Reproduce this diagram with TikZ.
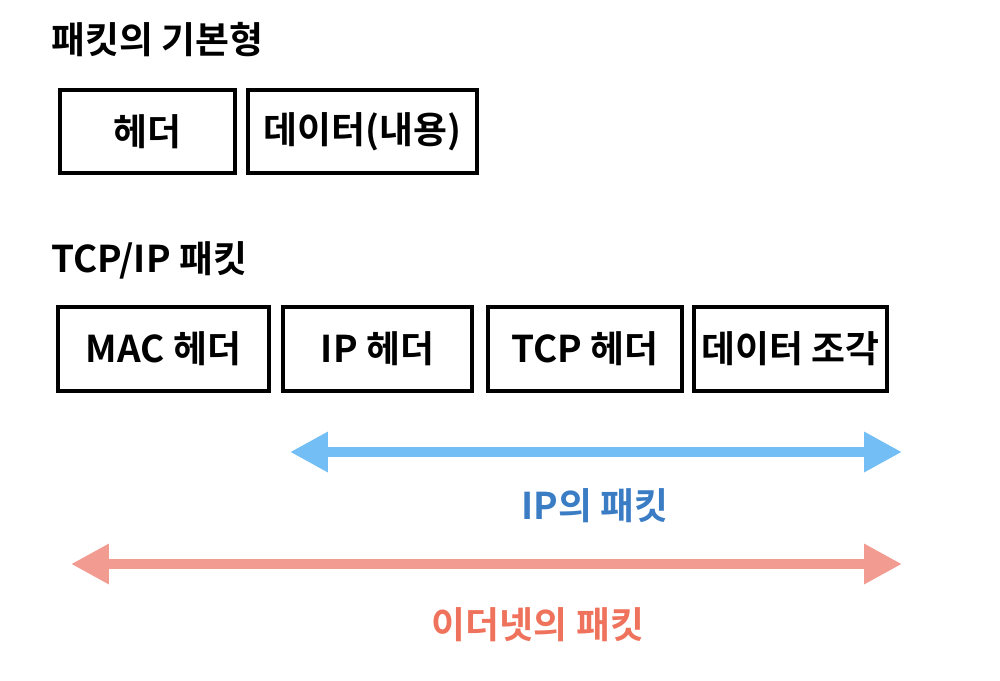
\documentclass[tikz,border=0pt]{standalone}
\usepackage{fontspec}
\setmainfont{Noto Sans CJK KR}[BoldFont={Noto Sans CJK KR Bold}]
\usetikzlibrary{arrows.meta}
\definecolor{ipline}{HTML}{74BEF6}
\definecolor{iptext}{HTML}{3B7DC4}
\definecolor{ethline}{HTML}{F29C91}
\definecolor{ethtext}{HTML}{EF735C}
\begin{document}
\begin{tikzpicture}[x=0.02cm, y=-0.02cm,
  font=\bfseries\fontsize{21}{25}\selectfont,
  title/.style={anchor=west, inner sep=0pt},
  field/.style={draw, line width=0.08cm, minimum height=1.67cm, inner sep=0pt},
  span/.style={line width=0.19cm, {Triangle[length=0.76cm, width=0.76cm]}-{Triangle[length=0.76cm, width=0.76cm]}}]
\useasboundingbox (0,0) rectangle (1000,680);

% basic form
\node[title] (t1) at (51,40) {패킷의 기본형};
\node[field, minimum width=3.5cm] (hdr) at (147.5,131.5) {헤더};
\node[field, minimum width=4.58cm] (body) at (362.5,131.5) {데이터(내용)};

% tcp/ip
\node[title] (t2) at (51,260) {TCP/IP 패킷};
\node[field, minimum width=4.22cm] (mac) at (163.5,349) {MAC 헤더};
\node[field, minimum width=3.78cm] (ip) at (377.5,349) {IP 헤더};
\node[field, minimum width=3.88cm] (tcp) at (585,349) {TCP 헤더};
\node[field, minimum width=3.86cm] (frag) at (790.5,349) {데이터 조각};

% ranges
\coordinate (ipl) at (290,452);
\coordinate (ipr) at (902,452);
\draw[span, ipline] (ipl) -- (ipr);
\node[iptext] (iplbl) at (595,506) {IP의 패킷};

\coordinate (ethl) at (71,564);
\coordinate (ethr) at (902,564);
\draw[span, ethline] (ethl) -- (ethr);
\node[ethtext] (ethlbl) at (538,625) {이더넷의 패킷};
\end{tikzpicture}
\end{document}
